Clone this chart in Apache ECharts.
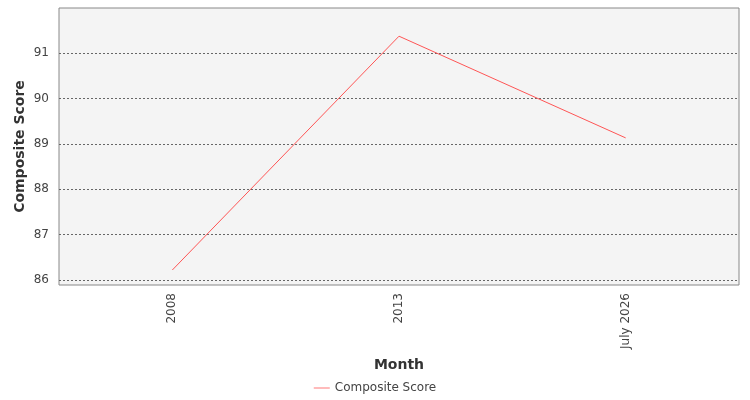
<!DOCTYPE html>
<html><head><meta charset="utf-8">
<script src="https://cdn.jsdelivr.net/npm/echarts@6/dist/echarts.min.js"></script>
<style>html,body{margin:0;padding:0;background:#fff}#c{width:750px;height:400px}</style>
</head><body><div id="c"></div>
<script>
const categories = ["2008", "2013", "July 2026"];
const compositeScore = [86.22, 91.37, 89.13];
const seriesName = "Composite Score";
const chart = echarts.init(document.getElementById('c'));
const font = 'DejaVu Sans, sans-serif';
chart.setOption({
  animation: false,
  textStyle: {fontFamily: font},
  grid: [
    {left: 59, right: 11, top: 8, bottom: 115, show: true, backgroundColor: '#f4f4f4', borderColor: '#888', borderWidth: 1},
    {left: 59, right: 11, top: 53, bottom: 120}
  ],
  xAxis: [
    {type: 'category', gridIndex: 0, data: categories, boundaryGap: true,
     axisLine: {show: false}, axisTick: {show: false},
     axisLabel: {rotate: 90, color: '#444', fontSize: 12, margin: 8, fontFamily: font},
     name: 'Month', nameLocation: 'middle', nameGap: 73,
     nameTextStyle: {fontSize: 14, color: '#333', fontWeight: 'bold', fontFamily: font}},
    {type: 'category', gridIndex: 1, data: categories, boundaryGap: true, show: false}
  ],
  yAxis: [
    {type: 'value', gridIndex: 0, min: 85.9, max: 92, show: true, splitLine: {show: false},
     axisLabel: {show: false}, axisLine: {show: false}, axisTick: {show: false},
     name: 'Composite Score', nameLocation: 'middle', nameGap: 32,
     nameTextStyle: {fontSize: 14, color: '#333', fontWeight: 'bold', fontFamily: font}},
    {type: 'value', gridIndex: 1, min: 86, max: 91, interval: 1,
     axisLine: {show: false}, axisTick: {show: false},
     axisLabel: {color: '#444', fontSize: 12, margin: 10, fontFamily: font},
     splitLine: {show: true, lineStyle: {color: '#666', type: [2, 2], width: 1}}}
  ],
  legend: {bottom: 1, left: 'center', icon: 'path://M0,0L20,0L20,1L0,1Z', itemWidth: 16, itemHeight: 1,
           textStyle: {color: '#444', fontSize: 12, fontFamily: font}, data: [seriesName]},
  series: [{
    name: seriesName, type: 'line', xAxisIndex: 1, yAxisIndex: 1, data: compositeScore, z: 5,
    clip: false, symbol: 'none', lineStyle: {color: '#ff5555', width: 1}, itemStyle: {color: '#ff5555'}
  }]
});
</script></body></html>
